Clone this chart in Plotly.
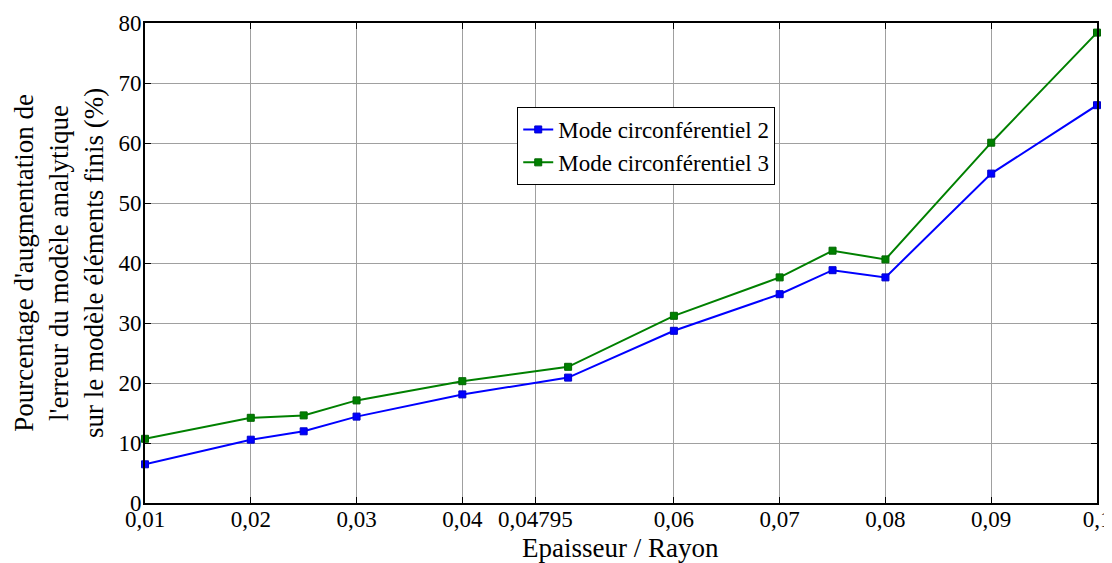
import plotly.graph_objects as go

x_ratio = [0.01, 0.02, 0.025, 0.03, 0.04, 0.05, 0.06, 0.07, 0.075, 0.08, 0.09, 0.1]
mode2 = [6.45, 10.55, 11.95, 14.4, 18.1, 20.9, 28.7, 34.8, 38.8, 37.6, 54.9, 66.3]
mode3 = [10.7, 14.2, 14.6, 17.1, 20.3, 22.7, 31.2, 37.6, 42.05, 40.6, 60.05, 78.4]

x_tickvals = [0.01, 0.02, 0.03, 0.04, 0.0469, 0.06, 0.07, 0.08, 0.09, 0.1]
x_ticktext = ["0,01", "0,02", "0,03", "0,04", "0,04795", "0,06", "0,07", "0,08", "0,09", "0,1"]
y_tickvals = [0, 10, 20, 30, 40, 50, 60, 70, 80]

FONT = "Liberation Serif"

fig = go.Figure()
fig.add_trace(go.Scatter(
    x=x_ratio, y=mode2, mode="lines+markers", name="Mode circonférentiel 2",
    line=dict(color="#0000ff", width=2),
    marker=dict(symbol="square", size=7, color="#0000ff", line=dict(color="#0000cc", width=1)),
    cliponaxis=False,
))
fig.add_trace(go.Scatter(
    x=x_ratio, y=mode3, mode="lines+markers", name="Mode circonférentiel 3",
    line=dict(color="#008000", width=2),
    marker=dict(symbol="square", size=7, color="#008000", line=dict(color="#006600", width=1)),
    cliponaxis=False,
))

fig.update_layout(
    width=1104, height=555,
    margin=dict(l=137, r=15, t=15, b=60, autoexpand=False),
    paper_bgcolor="white", plot_bgcolor="white",
    font=dict(family=FONT, size=23, color="black"),
    showlegend=True,
    legend=dict(
        x=0.391, y=0.825, xanchor="left", yanchor="top",
        bgcolor="white", bordercolor="black", borderwidth=1,
        font=dict(family=FONT, size=23, color="black"),
        itemwidth=30, tracegroupgap=0,
    ),
    xaxis=dict(
        range=[0.01, 0.1], tickvals=x_tickvals, ticktext=x_ticktext,
        showgrid=True, gridcolor="#a0a0a0", gridwidth=1,
        showline=True, linecolor="black", linewidth=2, mirror="ticks",
        ticks="inside", ticklen=6, tickcolor="black", tickwidth=1,
        zeroline=False, automargin=False, ticklabelstandoff=-6,
        tickfont=dict(family=FONT, size=23, color="black"),
    ),
    yaxis=dict(
        range=[0, 80], tickvals=y_tickvals,
        showgrid=True, gridcolor="#a0a0a0", gridwidth=1,
        showline=True, linecolor="black", linewidth=2, mirror="ticks",
        ticks="inside", ticklen=6, tickcolor="black", tickwidth=1,
        zeroline=False, automargin=False, ticklabelstandoff=-3,
        tickfont=dict(family=FONT, size=23, color="black"),
    ),
    annotations=[
        dict(
            text="Pourcentage d'augmentation de<br>l'erreur du modèle analytique<br>sur le modèle éléments finis (%)",
            xref="paper", yref="paper", x=(59 - 145) / 952, y=0.5,
            xanchor="center", yanchor="middle", textangle=-90, showarrow=False,
            font=dict(family=FONT, size=27, color="black"), align="center",
        ),
        dict(
            text="Epaisseur / Rayon",
            xref="paper", yref="paper", x=(620 - 145) / 952, y=-(548 - 503) / 480,
            xanchor="center", yanchor="middle", showarrow=False,
            font=dict(family=FONT, size=27, color="black"),
        ),
    ],
)

fig.write_html("out.html")
